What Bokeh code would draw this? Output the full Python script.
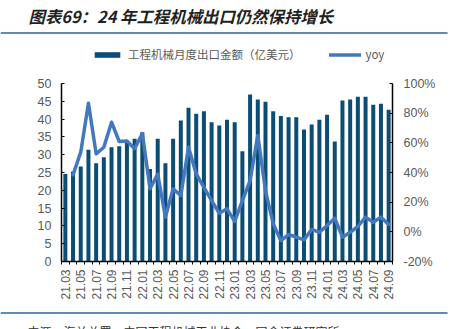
import numpy as np
from bokeh.plotting import figure
from bokeh.models import (Range1d, LinearAxis, FixedTicker, PrintfTickFormatter, Label,
                          BoxAnnotation, Legend, LegendItem, ColumnDataSource)
from bokeh.embed import file_html
from bokeh.resources import INLINE

# ---- data ----
months = ["21.03", "21.04", "21.05", "21.06", "21.07", "21.08", "21.09", "21.10", "21.11", "21.12",
          "22.01", "22.02", "22.03", "22.04", "22.05", "22.06", "22.07", "22.08", "22.09", "22.10", "22.11", "22.12",
          "23.01", "23.02", "23.03", "23.04", "23.05", "23.06", "23.07", "23.08", "23.09", "23.10", "23.11", "23.12",
          "24.01", "24.02", "24.03", "24.04", "24.05", "24.06", "24.07", "24.08", "24.09"]
export_value = [24.6, 25.3, 26.7, 31.4, 27.6, 29.3, 32.1, 32.4, 33.6, 34.5,
                36.3, 26.0, 34.5, 27.6, 34.5, 39.6, 43.2, 41.5, 42.2, 39.1, 38.2, 39.8,
                39.1, 31.0, 46.9, 45.5, 44.9, 42.2, 40.9, 40.5, 40.5, 37.1, 38.5, 39.8,
                41.2, 33.7, 45.2, 45.5, 46.3, 46.3, 44.0, 44.3, 42.6]
yoy = [np.nan, 38.4, 53.7, 86.7, 52.6, 57.0, 73.9, 60.9, 61.2, 56.0,
       66.3, 29.0, 39.0, 9.9, 29.0, 24.5, 57.0, 39.0, 30.0, 21.0, 12.5, 15.5,
       7.0, 21.0, 34.6, 65.0, 27.8, 5.4, -5.9, -1.8, -3.6, -5.4, 1.6, -0.3,
       4.2, 9.2, -3.6, -0.3, 3.6, 9.9, 6.5, 9.9, 4.9]
left_ticks = [0, 5, 10, 15, 20, 25, 30, 35, 40, 45, 50]
right_ticks = [-20, 0, 20, 40, 60, 80, 100]
title_text = "图表69：24 年工程机械出口仍然保持增长"
source_text = "来源：海关总署，中国工程机械工业协会，国金证券研究所"
bar_name = "工程机械月度出口金额（亿美元）"
line_name = "yoy"

BAR_COLOR = "#0b4d75"
LINE_COLOR = "#4278bd"
TICK_COLOR = "#595959"
RULE_COLOR = "#2f6394"

W, H = 451, 329
# plot-area edges in canvas pixels (the frame itself spans the whole canvas,
# axes are pinned with fixed_location so they take no side-panel room)
AX_L, AX_R, AX_T, AX_B = 61, 392, 83, 261
n = len(months)
px_cat = (AX_R - AX_L) / n
px_left = (AX_B - AX_T) / 50.0
px_right = (AX_B - AX_T) / 120.0
zero_right = AX_B - 20 * px_right

x_range = Range1d(-0.5 - AX_L / px_cat, n - 0.5 + (W - AX_R) / px_cat)
y_range = Range1d(-(H - AX_B) / px_left, AX_B / px_left)
yoy_range = Range1d(-(H - zero_right) / px_right, zero_right / px_right)

p = figure(width=W, height=H, output_backend="svg", toolbar_location=None, title=None,
           x_range=x_range, y_range=y_range,
           min_border=0, min_border_left=0, min_border_right=0,
           min_border_top=0, min_border_bottom=0,
           x_axis_type=None, y_axis_type=None)
p.outline_line_color = None
p.xgrid.visible = False
p.ygrid.visible = False
p.background_fill_color = "white"
p.border_fill_color = "white"
p.extra_y_ranges = {"yoy": yoy_range}

idx = list(range(n))
src = ColumnDataSource(dict(x=idx, export=export_value, yoy=yoy))

xaxis = LinearAxis(ticker=FixedTicker(ticks=idx[::2], minor_ticks=[i - 0.5 for i in range(n + 1)]),
                   major_label_overrides={i: m for i, m in enumerate(months)},
                   major_label_orientation=np.pi / 2, fixed_location=0, bounds=(-0.5, n - 0.5))
xaxis.major_tick_in = 0
xaxis.major_tick_out = 0
xaxis.minor_tick_in = 0
xaxis.minor_tick_out = 3
xaxis.minor_tick_line_color = "black"
xaxis.axis_line_color = "black"
xaxis.axis_line_width = 1.5
xaxis.major_label_standoff = 5
xaxis.major_label_text_font = "Liberation Sans"
xaxis.major_label_text_font_size = "12px"
xaxis.major_label_text_color = TICK_COLOR
p.add_layout(xaxis, "below")

laxis = LinearAxis(ticker=FixedTicker(ticks=left_ticks), bounds=(0, 50), fixed_location=-0.5)
laxis.major_tick_in = 3
laxis.major_tick_out = 0
laxis.minor_tick_in = 0
laxis.minor_tick_out = 0
laxis.axis_line_color = "black"
laxis.axis_line_width = 1.5
laxis.major_label_standoff = 10
laxis.major_label_text_font = "Liberation Sans"
laxis.major_label_text_font_size = "12.5px"
laxis.major_label_text_color = TICK_COLOR
p.add_layout(laxis, "left")

raxis = LinearAxis(y_range_name="yoy", ticker=FixedTicker(ticks=right_ticks),
                   formatter=PrintfTickFormatter(format="%d%%"), bounds=(-20, 100),
                   fixed_location=n - 0.5)
raxis.major_tick_in = 3
raxis.major_tick_out = 0
raxis.minor_tick_in = 0
raxis.minor_tick_out = 0
raxis.axis_line_color = "black"
raxis.axis_line_width = 1.5
raxis.major_label_standoff = 11
raxis.major_label_text_font = "Liberation Sans"
raxis.major_label_text_font_size = "12.5px"
raxis.major_label_text_color = TICK_COLOR
p.add_layout(raxis, "right")

bars = p.vbar(x="x", top="export", bottom=0, width=0.52, source=src,
              fill_color=BAR_COLOR, line_color=None)
line = p.line(x="x", y="yoy", source=src, y_range_name="yoy",
              line_color=LINE_COLOR, line_width=3.5, line_join="round", line_cap="round")


def sy(cy):
    """canvas y (from top) -> screen units (from frame bottom)"""
    return H - cy


legend = Legend(items=[LegendItem(label=bar_name, renderers=[bars]),
                       LegendItem(label=line_name, renderers=[line])],
                location=(91, sy(55) - 7), orientation="horizontal",
                glyph_width=32, glyph_height=7, label_height=14, label_standoff=5, spacing=28,
                padding=0, margin=0, border_line_color=None, background_fill_alpha=0,
                label_text_font="Noto Sans CJK SC", label_text_font_size="11.5px",
                label_text_color=TICK_COLOR)
p.add_layout(legend, "center")

p.add_layout(Label(x=28, y=sy(15), x_units="screen", y_units="screen", text=title_text,
                   text_font="Noto Sans CJK SC", text_font_size="16.4px",
                   text_font_style="bold italic", text_color="#222222",
                   text_baseline="middle", text_align="left"))

for cy in (32.5, 312.5):
    p.add_layout(BoxAnnotation(left=0, right=447, bottom=sy(cy + 0.8), top=sy(cy - 0.8),
                               left_units="screen", right_units="screen",
                               top_units="screen", bottom_units="screen",
                               fill_color=RULE_COLOR, fill_alpha=1, line_alpha=0))

p.add_layout(Label(x=27, y=sy(322), x_units="screen", y_units="screen", text=source_text,
                   text_font="Noto Sans CJK SC", text_font_size="12px",
                   text_color="#333333", text_baseline="top", text_align="left"))

open("out.html", "w").write(file_html(p, INLINE))
